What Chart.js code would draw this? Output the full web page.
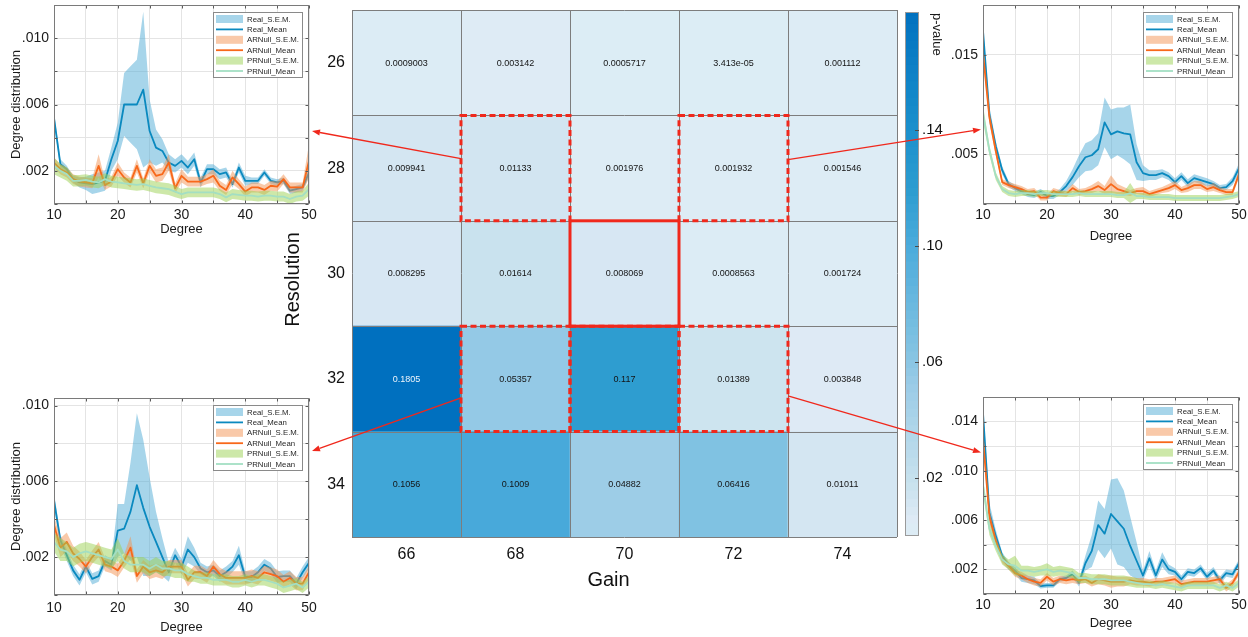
<!DOCTYPE html>
<html lang="en">
<head>
<meta charset="utf-8">
<title>Gain × Resolution p-values and degree distributions</title>
<script src="https://cdn.jsdelivr.net/npm/chart.js@4.4.1/dist/chart.umd.min.js"></script>
<style>
  html, body { margin: 0; padding: 0; background: #ffffff; }
  #figure { position: relative; width: 1248px; height: 637px; overflow: hidden; background: #ffffff; }
  #figure canvas { position: absolute; }
</style>
</head>
<body>
<div id="figure">
  <canvas id="heatmap"  width="655" height="596" style="left:250px;top:0px"></canvas>
  <canvas id="colorbar" width="50"  height="545" style="left:900px;top:0px"></canvas>
  <canvas id="panelTL"  width="322" height="241" style="left:0px;top:0px"></canvas>
  <canvas id="panelTR"  width="308" height="248" style="left:940px;top:0px"></canvas>
  <canvas id="panelBL"  width="322" height="247" style="left:0px;top:390px"></canvas>
  <canvas id="panelBR"  width="308" height="247" style="left:940px;top:390px"></canvas>
  <canvas id="arrows"   width="1248" height="637" style="left:0px;top:0px;pointer-events:none"></canvas>
</div>
<script>
const FONT = '"Liberation Sans", Arial, Helvetica, sans-serif';
Chart.defaults.font.family = FONT;
Chart.defaults.color = '#1a1a1a';

// ---------- p-value grid (rows = resolution, columns = gain) ----------
const gainLabels = [66, 68, 70, 72, 74];
const resolutionLabels = [26, 28, 30, 32, 34];
const pRow26 = [0.0009003, 0.003142, 0.0005717, 3.413e-05, 0.001112];
const pRow28 = [0.009941, 0.01133, 0.001976, 0.001932, 0.001546];
const pRow30 = [0.008295, 0.01614, 0.008069, 0.0008563, 0.001724];
const pRow32 = [0.1805, 0.05357, 0.117, 0.01389, 0.003848];
const pRow34 = [0.1056, 0.1009, 0.04882, 0.06416, 0.01011];
const pValues = [pRow26, pRow28, pRow30, pRow32, pRow34];
const colorbarTicks = [0.02, 0.06, 0.10, 0.14];
const pMax = 0.1805;

// highlighted parameter pairs [gain, resolution]
const dashedCells = [[68, 28], [72, 28], [68, 32], [70, 32], [72, 32]];
const solidCells = [[70, 30]];

// colormap stops [p, colour]
const pColorStops = [
  [0.000, '#dcedf5'], [0.004, '#deeaf5'], [0.010, '#d4e6f2'], [0.015, '#cbe3ee'],
  [0.050, '#9bcce7'], [0.064, '#80c2e2'], [0.100, '#49aadb'], [0.117, '#2e9dd0'],
  [0.140, '#1a8fcc'], [0.1805, '#0070bf']
];

// ---------- degree distributions (values ×10⁻³) ----------
const degrees = [10,11,12,13,14,15,16,17,18,19,20,21,22,23,24,25,26,27,28,29,30,31,32,33,34,35,36,37,38,39,40,41,42,43,44,45,46,47,48,49,50];
const degreeTicks = [10, 15, 20, 25, 30, 35, 40, 45, 50];
const degreeTickLabels = [10, 20, 30, 40, 50];

// gain 68, resolution 28
const tlRealMean = [5.2,2.4,2.1,1.5,1.3,1.25,1.2,1.3,1.4,2.7,3.8,6.0,6.0,6.0,6.9,4.4,3.4,3.2,2.5,2.3,2.6,2.2,2.7,1.3,2.1,2.1,1.8,1.9,1.2,2.2,1.4,1.4,1.4,1.9,1.4,1.3,1.4,0.8,0.9,1.0,1.9];
const tlRealSem  = [0.3,0.3,0.2,0.2,0.3,0.4,0.6,0.6,0.6,0.7,1.1,1.9,2.3,2.7,4.7,1.9,1.1,0.7,0.5,0.4,0.4,0.4,0.4,0.3,0.3,0.3,0.3,0.3,0.2,0.3,0.3,0.2,0.2,0.2,0.2,0.2,0.2,0.2,0.2,0.2,0.3];
const tlArMean   = [2.5,2.1,1.9,1.5,1.35,1.3,1.25,2.3,1.15,1.35,2.1,1.6,1.3,2.3,1.25,2.3,1.7,1.8,2.5,0.95,1.7,1.35,1.35,1.35,1.5,1.7,1.1,0.85,1.6,1.2,0.75,1.0,1.0,0.85,1.1,1.05,1.5,1.0,1.0,1.0,2.6];
const tlArSem    = [0.3,0.3,0.3,0.3,0.3,0.3,0.3,0.7,0.3,0.3,0.4,0.3,0.3,0.4,0.3,0.4,0.4,0.4,0.5,0.3,0.4,0.3,0.3,0.3,0.3,0.4,0.3,0.3,0.4,0.3,0.3,0.3,0.3,0.3,0.3,0.3,0.3,0.3,0.3,0.3,1.0];
const tlPrMean   = [2.3,2.0,1.8,1.4,1.4,1.45,1.35,1.3,1.5,1.35,1.3,1.25,1.2,1.15,1.2,1.1,1.0,0.95,0.9,0.75,0.6,0.7,0.7,0.7,0.7,0.7,0.6,0.4,0.6,0.55,0.5,0.5,0.45,0.5,0.5,0.45,0.45,0.3,0.45,0.5,0.9];
const tlPrSem    = [0.5,0.4,0.4,0.35,0.35,0.35,0.35,0.35,0.35,0.35,0.35,0.35,0.35,0.35,0.35,0.35,0.35,0.35,0.35,0.35,0.3,0.3,0.3,0.3,0.3,0.3,0.3,0.3,0.3,0.3,0.3,0.3,0.3,0.3,0.3,0.3,0.3,0.3,0.3,0.3,0.4];

// gain 72, resolution 28
const trRealMean = [17.4,9.0,5.8,3.4,2.0,1.6,1.3,1.0,0.9,1.2,0.8,0.8,1.2,1.8,2.7,3.8,4.7,4.9,5.5,8.2,7.0,7.3,7.1,7.0,4.2,3.1,2.9,2.9,3.1,2.8,2.2,2.8,2.1,2.6,2.4,2.2,2.0,1.6,1.7,2.3,3.6];
const trRealSem  = [0.5,0.8,0.5,0.4,0.3,0.3,0.3,0.3,0.3,0.3,0.3,0.3,0.3,0.5,0.8,1.1,1.4,1.5,1.6,2.5,2.5,2.4,2.6,3.0,1.8,0.8,0.5,0.5,0.4,0.4,0.4,0.4,0.4,0.4,0.4,0.4,0.3,0.3,0.3,0.4,0.5];
const trArMean   = [15.2,8.7,5.3,2.2,1.9,1.7,1.5,1.2,1.3,0.65,0.65,1.3,1.1,1.0,1.6,1.2,1.3,1.5,1.8,1.4,2.0,1.5,1.3,1.1,1.3,1.3,1.0,1.2,1.4,1.6,1.9,1.4,1.6,1.9,1.9,1.5,1.7,1.4,1.2,1.2,3.0];
const trArSem    = [0.6,0.6,0.4,0.3,0.3,0.3,0.3,0.3,0.3,0.3,0.3,0.3,0.3,0.3,0.4,0.3,0.3,0.4,0.5,0.4,0.9,0.5,0.4,0.3,0.3,0.4,0.3,0.3,0.3,0.4,0.4,0.3,0.4,0.4,0.4,0.3,0.4,0.3,0.3,0.3,0.4];
const trPrMean   = [9.1,5.4,2.8,1.5,1.1,1.0,1.1,1.1,1.0,1.1,1.1,1.0,1.0,1.0,1.0,1.1,1.0,1.0,1.0,1.0,1.0,0.9,0.9,1.1,0.8,0.8,0.7,0.7,0.7,0.7,0.6,0.6,0.6,0.6,0.6,0.6,0.6,0.6,0.7,0.8,1.0];
const trPrSem    = [0.8,0.5,0.4,0.3,0.3,0.3,0.3,0.3,0.3,0.3,0.3,0.3,0.3,0.3,0.3,0.3,0.3,0.3,0.3,0.3,0.3,0.3,0.3,1.0,0.3,0.3,0.3,0.3,0.3,0.3,0.3,0.3,0.3,0.3,0.3,0.3,0.3,0.3,0.3,0.3,0.3];

// gain 68, resolution 32
const blRealMean = [5.0,2.9,2.1,1.3,0.8,1.5,0.85,1.0,1.8,1.6,3.4,3.5,4.4,5.8,4.6,3.6,2.8,2.0,1.2,2.1,1.5,2.4,2.0,1.4,1.2,1.3,1.0,1.2,1.5,2.1,0.95,0.95,1.2,1.6,1.4,0.95,1.0,1.0,0.6,1.2,1.7];
const blRealSem  = [0.4,0.3,0.3,0.3,0.3,0.3,0.3,0.3,0.3,0.3,1.4,1.3,2.6,3.8,3.6,2.6,1.6,1.0,0.5,0.4,0.4,0.7,0.5,0.3,0.3,0.3,0.3,0.3,0.3,0.5,0.3,0.3,0.3,0.3,0.3,0.3,0.3,0.3,0.3,0.3,0.3];
const blArMean   = [3.7,2.5,2.8,2.2,1.9,1.5,2.0,2.4,1.6,1.5,1.3,1.8,2.5,1.0,1.5,1.2,1.3,1.2,1.5,1.5,1.5,0.8,1.2,1.2,1.0,1.5,1.1,0.9,0.9,0.9,0.9,1.0,0.9,1.2,1.1,1.0,0.7,0.9,0.6,0.6,1.2];
const blArSem    = [0.5,0.5,0.5,0.4,0.4,0.35,0.35,0.4,0.35,0.35,0.35,0.35,0.6,0.35,0.35,0.35,0.35,0.35,0.35,0.35,0.35,0.35,0.35,0.35,0.35,0.35,0.35,0.35,0.35,0.35,0.35,0.35,0.35,0.35,0.35,0.35,0.35,0.35,0.35,0.35,0.35];
const blPrMean   = [2.8,2.4,2.3,2.0,2.2,2.3,2.2,2.1,2.0,1.9,2.4,1.8,1.6,1.6,1.6,1.4,1.6,1.4,1.4,1.3,1.3,1.1,1.0,0.9,0.9,0.8,0.8,0.8,0.7,0.7,0.8,0.7,0.8,0.8,0.7,0.6,0.4,0.5,0.6,0.4,0.7];
const blPrSem    = [0.5,0.6,0.5,0.5,0.5,0.5,0.5,0.5,0.5,0.5,0.6,0.4,0.4,0.4,0.4,0.4,0.4,0.4,0.4,0.4,0.4,0.4,0.3,0.3,0.3,0.3,0.3,0.3,0.3,0.3,0.3,0.3,0.3,0.3,0.3,0.3,0.3,0.3,0.3,0.3,0.3];

// gain 72, resolution 32
const brRealMean = [14.7,6.6,4.7,3.1,2.3,1.9,1.3,1.2,1.1,0.65,0.7,0.7,1.2,1.3,1.6,0.9,2.5,3.5,5.6,4.9,6.5,5.9,5.3,3.9,2.7,1.5,2.9,1.5,2.8,2.0,1.8,1.2,1.8,1.7,2.1,1.4,1.9,1.1,1.7,1.6,2.5];
const brRealSem  = [0.6,0.8,0.5,0.3,0.3,0.3,0.3,0.3,0.3,0.2,0.2,0.2,0.2,0.2,0.3,0.3,0.6,1.3,2.0,2.0,2.8,3.5,3.1,2.4,1.5,0.4,0.6,0.4,0.6,0.4,0.3,0.3,0.3,0.3,0.3,0.3,0.3,0.3,0.3,0.3,0.3];
const brArMean   = [12.6,6.3,4.3,2.8,2.3,1.7,1.5,1.2,1.0,0.9,1.4,1.0,1.2,1.1,1.2,1.1,1.2,0.9,1.2,1.1,1.0,1.0,1.0,1.1,1.0,1.0,0.9,1.0,1.0,1.1,1.2,0.8,0.9,1.0,1.0,1.0,1.1,1.2,0.5,0.9,1.8];
const brArSem    = [0.5,0.5,0.4,0.3,0.3,0.3,0.3,0.3,0.3,0.3,0.3,0.3,0.3,0.3,0.3,0.3,0.3,0.3,0.4,0.4,0.5,0.4,0.4,0.3,0.3,0.3,0.3,0.3,0.3,0.3,0.3,0.3,0.3,0.3,0.3,0.3,0.3,0.3,0.3,0.3,0.3];
const brPrMean   = [8.8,5.3,3.9,2.8,2.4,2.3,1.9,1.9,1.8,1.9,2.0,1.8,1.9,1.8,1.7,1.3,1.3,1.2,1.2,1.2,1.1,1.1,1.1,1.0,0.9,0.8,0.8,0.7,0.8,0.7,0.6,0.5,0.7,0.7,0.7,0.7,0.7,0.5,0.7,0.5,0.9];
const brPrSem    = [0.6,0.5,0.4,0.4,0.4,0.8,0.4,0.4,0.4,0.4,0.5,0.4,0.4,0.4,0.4,0.4,0.4,0.4,0.4,0.4,0.4,0.4,0.4,0.4,0.4,0.3,0.3,0.3,0.3,0.3,0.3,0.3,0.3,0.3,0.3,0.3,0.3,0.3,0.3,0.3,0.3];

// y-axis ticks (×10⁻³) and which of them carry a label
const tlYTicks = [0, 2, 4, 6, 8, 10, 12],  tlYLabels = [2, 6, 10];
const trYTicks = [0, 5, 10, 15, 20],       trYLabels = [5, 15];
const blYTicks = [0, 2, 4, 6, 8, 10],      blYLabels = [2, 6, 10];
const brYTicks = [0, 2, 4, 6, 8, 10, 12, 14, 16], brYLabels = [2, 6, 10, 14];

// ---------- helpers ----------
function hexToRgb(h) { const n = parseInt(h.slice(1), 16); return [(n >> 16) & 255, (n >> 8) & 255, n & 255]; }
function pColor(p) {
  const s = pColorStops;
  if (p <= s[0][0]) return s[0][1];
  for (let i = 1; i < s.length; i++) {
    if (p <= s[i][0]) {
      const t = (p - s[i - 1][0]) / (s[i][0] - s[i - 1][0]);
      const a = hexToRgb(s[i - 1][1]), b = hexToRgb(s[i][1]);
      const c = a.map((v, k) => Math.round(v + (b[k] - v) * t));
      return `rgb(${c[0]},${c[1]},${c[2]})`;
    }
  }
  return s[s.length - 1][1];
}
function fmtP(p) {
  if (p < 1e-4) {
    const [m, e] = p.toExponential(3).split('e');
    const ex = parseInt(e, 10);
    return m + 'e' + (ex < 0 ? '-' : '+') + String(Math.abs(ex)).padStart(2, '0');
  }
  return String(parseFloat(p.toPrecision(4)));
}
const fmtMilli = v => '.' + String(v).padStart(3, '0');
// keep the plot area exactly where the layout padding puts it
const noEdgePadding = s => { s.paddingTop = 0; s.paddingBottom = 0; s.paddingLeft = 0; s.paddingRight = 0; };

// ---------- heatmap ----------
const rowsBottomUp = resolutionLabels.slice().reverse();
const CELL_LINE = '#7d7d7d';
const RED = '#f0281c';

const heatOverlay = {
  id: 'heatOverlay',
  afterDraw(chart) {
    const { ctx, chartArea: a } = chart;
    const xs = chart.scales.x, ys = chart.scales.y;
    ctx.save();
    // cell borders
    ctx.strokeStyle = CELL_LINE;
    ctx.lineWidth = 1;
    ctx.beginPath();
    for (let i = 0; i <= gainLabels.length; i++) {
      const px = Math.round(xs.getPixelForValue(i - 0.5)) + 0.5;
      ctx.moveTo(px, a.top); ctx.lineTo(px, a.bottom);
    }
    for (let j = 0; j <= rowsBottomUp.length; j++) {
      const py = Math.round(ys.getPixelForValue(j)) + 0.5;
      ctx.moveTo(a.left, py); ctx.lineTo(a.right, py);
    }
    ctx.stroke();
    // cell values
    ctx.font = `9px ${FONT}`;
    ctx.textAlign = 'center';
    ctx.textBaseline = 'middle';
    chart.data.datasets.forEach((ds, di) => {
      chart.getDatasetMeta(di).data.forEach((bar, ci) => {
        const p = ds.pvals[ci];
        ctx.fillStyle = p > 0.15 ? '#eef5fb' : '#141414';
        ctx.fillText(fmtP(p), bar.x, (bar.y + bar.base) / 2 + 0.5);
      });
    });
    // highlighted cells
    const cellRect = ([g, r]) => {
      const ci = gainLabels.indexOf(g), ri = rowsBottomUp.indexOf(r);
      const x0 = xs.getPixelForValue(ci - 0.5), x1 = xs.getPixelForValue(ci + 0.5);
      const y0 = ys.getPixelForValue(ri + 1), y1 = ys.getPixelForValue(ri);
      return [x0, y0, x1 - x0, y1 - y0];
    };
    ctx.strokeStyle = RED;
    ctx.lineWidth = 3;
    ctx.setLineDash([6, 3.5]);
    dashedCells.forEach(c => ctx.strokeRect(...cellRect(c)));
    ctx.setLineDash([]);
    solidCells.forEach(c => ctx.strokeRect(...cellRect(c)));
    // axis titles
    ctx.fillStyle = '#111';
    ctx.font = `20px ${FONT}`;
    ctx.fillText('Gain', (a.left + a.right) / 2 - 16, a.bottom + 43);
    ctx.translate(a.left - 59, (a.top + a.bottom) / 2 + 6);
    ctx.rotate(-Math.PI / 2);
    ctx.fillText('Resolution', 0, 0);
    ctx.restore();
  }
};

const heatChart = new Chart(document.getElementById('heatmap'), {
  type: 'bar',
  data: {
    labels: gainLabels.map(String),
    datasets: rowsBottomUp.map(res => {
      const row = pValues[resolutionLabels.indexOf(res)];
      return {
        label: 'Resolution ' + res,
        data: row.map(() => 1),
        pvals: row,
        backgroundColor: row.map(pColor),
        borderWidth: 0,
        barPercentage: 1,
        categoryPercentage: 1
      };
    })
  },
  options: {
    responsive: false, animation: false, events: [], devicePixelRatio: 1,
    layout: { padding: { left: 27, top: 10, right: 8, bottom: 0 } },
    plugins: { legend: { display: false }, tooltip: { enabled: false } },
    scales: {
      x: {
        stacked: true, offset: true,
        grid: { display: false, drawTicks: false },
        border: { display: false },
        ticks: { font: { size: 16 }, color: '#111', padding: 8 },
        afterFit: s => { s.height = 59; noEdgePadding(s); }
      },
      y: {
        stacked: true, min: 0, max: 5,
        afterBuildTicks: s => { s.ticks = [0, 1, 2, 3, 4, 5].map(v => ({ value: v })); },
        grid: { display: false, drawTicks: false },
        border: { display: false },
        ticks: { font: { size: 16 }, color: '#111', padding: 7, labelOffset: -52.7,
                 callback: v => (v < rowsBottomUp.length ? String(rowsBottomUp[v]) : '') },
        afterFit: s => { s.width = 75; noEdgePadding(s); }
      }
    }
  },
  plugins: [heatOverlay]
});

// ---------- colour bar ----------
const CB_SEGMENTS = 64;
const cbDatasets = [];
for (let i = 0; i < CB_SEGMENTS; i++) {
  const lo = pMax * i / CB_SEGMENTS;
  const hi = Math.min(pMax, pMax * (i + 1.5) / CB_SEGMENTS);
  cbDatasets.push({ data: [[lo, hi]], backgroundColor: pColor(pMax * (i + 0.5) / CB_SEGMENTS),
                    borderWidth: 0, barPercentage: 1, categoryPercentage: 1, grouped: false });
}
const cbFrame = {
  id: 'cbFrame',
  afterDraw(chart) {
    const { ctx, chartArea: a } = chart;
    const ys = chart.scales.y;
    ctx.save();
    ctx.strokeStyle = '#9a9a9a';
    ctx.lineWidth = 1;
    ctx.strokeRect(Math.round(a.left) + 0.5, Math.round(a.top) + 0.5, Math.round(a.right - a.left) - 1, Math.round(a.bottom - a.top) - 1);
    ctx.strokeStyle = '#4a4a4a';
    ctx.beginPath();
    colorbarTicks.forEach(v => {
      const py = Math.round(ys.getPixelForValue(v)) + 0.5;
      ctx.moveTo(a.right - 4, py); ctx.lineTo(a.right, py);
    });
    ctx.stroke();
    ctx.translate(37, 13);
    ctx.rotate(Math.PI / 2);
    ctx.font = `13px ${FONT}`;
    ctx.fillStyle = '#1a1a1a';
    ctx.textAlign = 'left';
    ctx.textBaseline = 'middle';
    ctx.fillText('p-value', 0, 0);
    ctx.restore();
  }
};
new Chart(document.getElementById('colorbar'), {
  type: 'bar',
  data: { labels: ['p'], datasets: cbDatasets },
  options: {
    responsive: false, animation: false, events: [], devicePixelRatio: 1,
    layout: { padding: { left: 5, top: 12, right: 0, bottom: 9 } },
    plugins: { legend: { display: false }, tooltip: { enabled: false } },
    scales: {
      x: { display: false },
      y: {
        position: 'right', min: 0, max: pMax,
        afterBuildTicks: s => { s.ticks = colorbarTicks.map(v => ({ value: v })); },
        grid: { display: false, drawTicks: false },
        border: { display: false },
        ticks: { font: { size: 15 }, color: '#111', padding: 3, callback: v => v.toFixed(2).slice(1) },
        afterFit: s => { s.width = 31; noEdgePadding(s); }
      }
    }
  },
  plugins: [cbFrame]
});

// ---------- degree distribution panels ----------
const BAND_REAL = 'rgba(80,172,214,0.5)';
const BAND_AR = 'rgba(243,147,83,0.5)';
const BAND_PR = 'rgba(155,209,83,0.5)';
const LINE_REAL = '#0a89bf';
const LINE_AR = '#f8681a';
const LINE_PR = '#a3dfc3';
const GRID = '#e4e4e4';

const panelFrame = {
  id: 'panelFrame',
  afterDatasetsDraw(chart) {
    const { ctx, chartArea: a, scales: { x, y } } = chart;
    const L = Math.round(a.left) + 0.5, R = Math.round(a.right) - 0.5;
    const T = Math.round(a.top) + 0.5, B = Math.round(a.bottom) - 0.5;
    ctx.save();
    ctx.strokeStyle = '#5a5a5a';
    ctx.lineWidth = 1;
    ctx.beginPath();
    x.ticks.forEach(t => {
      const px = Math.round(x.getPixelForValue(t.value)) + 0.5;
      ctx.moveTo(px, B); ctx.lineTo(px, B - 3);
      ctx.moveTo(px, T); ctx.lineTo(px, T + 3);
    });
    y.ticks.forEach(t => {
      const py = Math.round(y.getPixelForValue(t.value)) + 0.5;
      ctx.moveTo(L, py); ctx.lineTo(L + 3, py);
      ctx.moveTo(R, py); ctx.lineTo(R - 3, py);
    });
    ctx.stroke();
    ctx.strokeStyle = '#7a7a7a';
    ctx.strokeRect(L, T, R - L, B - T);
    ctx.restore();
  }
};

const panelLegend = {
  id: 'panelLegend',
  afterDatasetsDraw(chart) {
    const entries = chart.data.datasets.filter(ds => ds.kind);
    const { ctx, chartArea: a } = chart;
    const w = 90, h = 66;
    const x0 = Math.round(a.right - 6 - w), y0 = Math.round(a.top + 7);
    ctx.save();
    ctx.fillStyle = '#ffffff';
    ctx.fillRect(x0, y0, w, h);
    ctx.strokeStyle = '#8a8a8a';
    ctx.lineWidth = 1;
    ctx.strokeRect(x0 + 0.5, y0 + 0.5, w - 1, h - 1);
    ctx.font = `7.8px ${FONT}`;
    ctx.textAlign = 'left';
    ctx.textBaseline = 'middle';
    entries.forEach((ds, i) => {
      const cy = y0 + 7 + i * 10.4;
      if (ds.kind === 'band') {
        ctx.fillStyle = ds.backgroundColor;
        ctx.fillRect(x0 + 3, cy - 4, 27, 8);
      } else {
        ctx.strokeStyle = ds.borderColor;
        ctx.lineWidth = 1.8;
        ctx.beginPath(); ctx.moveTo(x0 + 3, cy); ctx.lineTo(x0 + 30, cy); ctx.stroke();
      }
      ctx.fillStyle = '#262626';
      ctx.fillText(ds.label, x0 + 34, cy + 0.5);
    });
    ctx.restore();
  }
};

function makePanel(canvasId, d, lay) {
  const pts = arr => degrees.map((x, i) => ({ x, y: arr[i] }));
  const off = (m, e, s) => degrees.map((x, i) => ({ x, y: m[i] + s * e[i] }));
  const hidden = { borderWidth: 0, borderColor: 'rgba(0,0,0,0)', fill: false };
  const datasets = [
    { label: '_real_lo', data: off(d.real, d.realSem, -1), ...hidden, order: 6 },
    { label: 'Real_S.E.M.', kind: 'band', data: off(d.real, d.realSem, 1), borderWidth: 0, borderColor: 'rgba(0,0,0,0)', backgroundColor: BAND_REAL, fill: '-1', order: 6 },
    { label: 'Real_Mean', kind: 'line', data: pts(d.real), borderColor: LINE_REAL, borderWidth: 1.8, fill: false, order: 5 },
    { label: '_ar_lo', data: off(d.ar, d.arSem, -1), ...hidden, order: 4 },
    { label: 'ARNull_S.E.M.', kind: 'band', data: off(d.ar, d.arSem, 1), borderWidth: 0, borderColor: 'rgba(0,0,0,0)', backgroundColor: BAND_AR, fill: '-1', order: 4 },
    { label: 'ARNull_Mean', kind: 'line', data: pts(d.ar), borderColor: LINE_AR, borderWidth: 1.8, fill: false, order: 3 },
    { label: '_pr_lo', data: off(d.pr, d.prSem, -1), ...hidden, order: 2 },
    { label: 'PRNull_S.E.M.', kind: 'band', data: off(d.pr, d.prSem, 1), borderWidth: 0, borderColor: 'rgba(0,0,0,0)', backgroundColor: BAND_PR, fill: '-1', order: 2 },
    { label: 'PRNull_Mean', kind: 'line', data: pts(d.pr), borderColor: LINE_PR, borderWidth: 1.8, fill: false, order: 1 }
  ];
  return new Chart(document.getElementById(canvasId), {
    type: 'line',
    data: { datasets },
    options: {
      responsive: false, animation: false, events: [], devicePixelRatio: 1,
      layout: { padding: lay.padding },
      elements: { point: { radius: 0 }, line: { tension: 0, borderJoinStyle: 'round' } },
      plugins: { legend: { display: false }, tooltip: { enabled: false }, filler: { propagate: false } },
      scales: {
        x: {
          type: 'linear', min: 10, max: 50,
          afterBuildTicks: s => { s.ticks = degreeTicks.map(v => ({ value: v })); },
          grid: { color: GRID, drawTicks: false },
          border: { display: false },
          ticks: { font: { size: 14 }, color: '#1a1a1a', padding: lay.xTickPad, maxRotation: 0, autoSkip: false,
                   callback: v => (degreeTickLabels.includes(v) ? String(v) : '') },
          title: { display: true, text: 'Degree', font: { size: 13 }, color: '#1a1a1a', padding: { top: 0, bottom: lay.xTitlePad } },
          afterFit: s => { s.height = lay.xHeight; noEdgePadding(s); }
        },
        y: {
          type: 'linear', min: 0, max: d.yMax,
          afterBuildTicks: s => { s.ticks = d.yTicks.map(v => ({ value: v })); },
          grid: { color: GRID, drawTicks: false },
          border: { display: false },
          ticks: { font: { size: 14 }, color: '#1a1a1a', padding: 5, autoSkip: false,
                   callback: v => (d.yLabels.includes(v) ? fmtMilli(v) : '') },
          title: { display: !!lay.yTitle, text: 'Degree distribution', font: { size: 13 }, color: '#1a1a1a', padding: { top: 4, bottom: 0 } },
          afterFit: s => { s.width = lay.yWidth; noEdgePadding(s); }
        }
      }
    },
    plugins: [panelFrame, panelLegend]
  });
}

const panelTL = makePanel('panelTL',
  { real: tlRealMean, realSem: tlRealSem, ar: tlArMean, arSem: tlArSem, pr: tlPrMean, prSem: tlPrSem, yMax: 12, yTicks: tlYTicks, yLabels: tlYLabels },
  { padding: { left: 5, top: 5, right: 13, bottom: 0 }, yWidth: 49, xHeight: 37, xTickPad: 3, xTitlePad: 4, yTitle: true });
const panelTR = makePanel('panelTR',
  { real: trRealMean, realSem: trRealSem, ar: trArMean, arSem: trArSem, pr: trPrMean, prSem: trPrSem, yMax: 20, yTicks: trYTicks, yLabels: trYLabels },
  { padding: { left: 0, top: 5, right: 9, bottom: 0 }, yWidth: 43, xHeight: 44, xTickPad: 3, xTitlePad: 4, yTitle: false });
const panelBL = makePanel('panelBL',
  { real: blRealMean, realSem: blRealSem, ar: blArMean, arSem: blArSem, pr: blPrMean, prSem: blPrSem, yMax: 10.4, yTicks: blYTicks, yLabels: blYLabels },
  { padding: { left: 5, top: 8, right: 13, bottom: 0 }, yWidth: 49, xHeight: 42, xTickPad: 5, xTitlePad: 2, yTitle: true });
const panelBR = makePanel('panelBR',
  { real: brRealMean, realSem: brRealSem, ar: brArMean, arSem: brArSem, pr: brPrMean, prSem: brPrSem, yMax: 16, yTicks: brYTicks, yLabels: brYLabels },
  { padding: { left: 0, top: 7, right: 9, bottom: 0 }, yWidth: 43, xHeight: 43, xTickPad: 3, xTitlePad: 6, yTitle: false });

// ---------- links from highlighted cells to their panels ----------
const arrowLinks = [
  { cell: [68, 28], side: 'left',  frac: 0.41, panel: panelTL, edge: 'right', at: 4.4 },
  { cell: [72, 28], side: 'right', frac: 0.42, panel: panelTR, edge: 'left',  at: 7.5 },
  { cell: [68, 32], side: 'left',  frac: 0.68, panel: panelBL, edge: 'right', at: 7.6 },
  { cell: [72, 32], side: 'right', frac: 0.66, panel: panelBR, edge: 'left',  at: 11.5 }
];
(function drawLinks() {
  const ctx = document.getElementById('arrows').getContext('2d');
  const hx = heatChart.canvas.offsetLeft, hy = heatChart.canvas.offsetTop;
  const xs = heatChart.scales.x, ys = heatChart.scales.y;
  ctx.strokeStyle = RED;
  ctx.fillStyle = RED;
  ctx.lineWidth = 1.3;
  arrowLinks.forEach(l => {
    const ci = gainLabels.indexOf(l.cell[0]), ri = rowsBottomUp.indexOf(l.cell[1]);
    const sx = hx + xs.getPixelForValue(l.side === 'left' ? ci - 0.5 : ci + 0.5);
    const sy = hy + ys.getPixelForValue(ri + 1 - l.frac);
    const pc = l.panel;
    const px = pc.canvas.offsetLeft, py = pc.canvas.offsetTop;
    const ex = px + (l.edge === 'right' ? pc.chartArea.right + 3 : pc.chartArea.left - 2);
    const ey = py + pc.scales.y.getPixelForValue(l.at);
    const ang = Math.atan2(ey - sy, ex - sx);
    const hl = 8, hw = 3;
    const bx = ex - hl * Math.cos(ang), by = ey - hl * Math.sin(ang);
    ctx.beginPath(); ctx.moveTo(sx, sy); ctx.lineTo(bx, by); ctx.stroke();
    ctx.beginPath();
    ctx.moveTo(ex, ey);
    ctx.lineTo(bx + hw * Math.sin(ang), by - hw * Math.cos(ang));
    ctx.lineTo(bx - hw * Math.sin(ang), by + hw * Math.cos(ang));
    ctx.closePath(); ctx.fill();
  });
})();
</script>
</body>
</html>
